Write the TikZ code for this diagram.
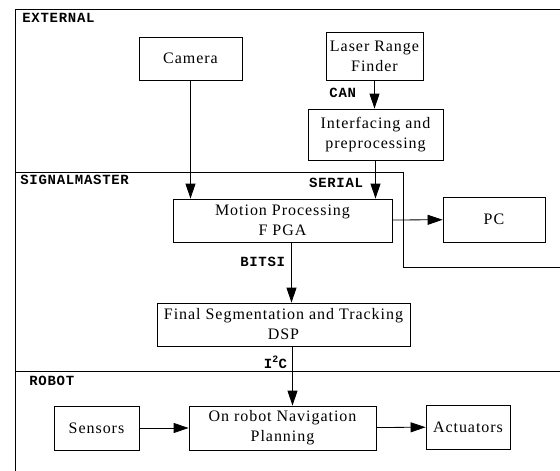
\documentclass[tikz,border=0pt]{standalone}
\usepackage{fontspec}
\setmainfont{Liberation Serif}[LetterSpace=6]
\newfontfamily\tagfont{Liberation Mono}[LetterSpace=5]
\usetikzlibrary{arrows.meta}

\begin{document}
\begin{tikzpicture}[x=1pt, y=-1pt, line width=0.8pt,
    blk/.style={draw, inner sep=0pt, align=center, font=\fontsize{16}{20}\selectfont},
    tag/.style={font=\tagfont\bfseries\fontsize{14}{14}\selectfont, inner sep=0pt},
    >={Triangle[length=15pt,width=10pt]}]
  \useasboundingbox (0,0) rectangle (560,471);
  % region borders
  \draw (560,9) -- (15,9) -- (15,471);
  \draw (15,172) -- (403,172) -- (403,267) -- (560,267);
  \draw (15,371) -- (560,371);
  \draw (22,18) node[tag, anchor=west] (ext) {EXTERNAL};
  \draw (20,180) node[tag, anchor=west] (sig) {SIGNALMASTER};
  \draw (29,381) node[tag, anchor=west] (rob) {ROBOT};

  \draw (190.5,58.5) node[blk, minimum width=103pt, minimum height=43pt] (camera) {Camera};
  \draw (374.5,56) node[blk, minimum width=97pt, minimum height=48pt] (lrf) {Laser Range\\Finder};
  \draw (375.5,134.5) node[blk, minimum width=135pt, minimum height=51pt] (intf) {Interfacing and\\preprocessing};
  \draw (282.5,220.5) node[blk, minimum width=219pt, minimum height=43pt] (motion) {Motion Processing\\F PGA};
  \draw (494,219.5) node[blk, minimum width=102pt, minimum height=45pt] (pc) {PC};
  \draw (283.5,324.5) node[blk, minimum width=253pt, minimum height=43pt] (final) {Final Segmentation and Tracking\\DSP};
  \draw (96.5,428) node[blk, minimum width=85pt, minimum height=44pt] (sensors) {Sensors};
  \draw (282.5,428) node[blk, minimum width=187pt, minimum height=44pt] (nav) {On robot Navigation\\Planning};
  \draw (468,427) node[blk, minimum width=84pt, minimum height=44pt] (act) {Actuators};

  \draw[->] (camera) -- (camera |- motion.north);
  \draw[->] (lrf.south) -- node[tag, pos=0.45, left=18pt] {CAN} (lrf.south |- intf.north);
  \draw[->] (intf.south) -- node[tag, pos=0.6, left=12pt] {SERIAL} (intf.south |- motion.north);
  \draw[->] (motion) -- (pc);
  \draw[->] ([xshift=9pt]motion.south) -- node[tag, pos=0.33, left=6pt] {BITSI} ([xshift=9pt]motion.south |- final.north);
  \draw[->] ([xshift=9pt]final.south) -- node[tag, pos=0.27, left=5pt] {I\textsuperscript{2}C} ([xshift=9pt]final.south |- nav.north);
  \draw[->] (sensors) -- (nav);
  \draw[->] (nav) -- (act);
\end{tikzpicture}
\end{document}
